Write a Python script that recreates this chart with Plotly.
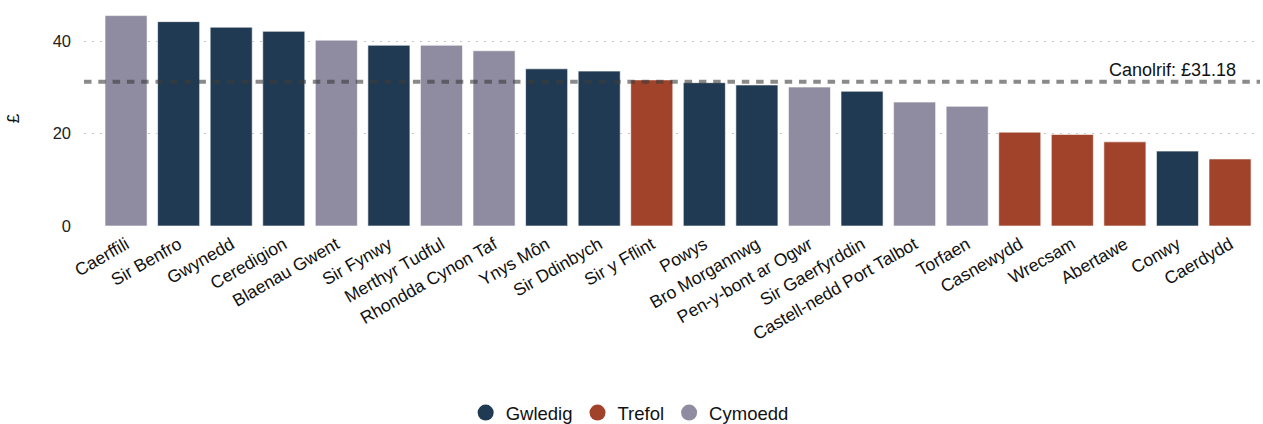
import plotly.graph_objects as go

categories = ["Caerffili", "Sir Benfro", "Gwynedd", "Ceredigion", "Blaenau Gwent", "Sir Fynwy",
              "Merthyr Tudful", "Rhondda Cynon Taf", "Ynys Môn", "Sir Ddinbych", "Sir y Fflint",
              "Powys", "Bro Morgannwg", "Pen-y-bont ar Ogwr", "Sir Gaerfyrddin",
              "Castell-nedd Port Talbot", "Torfaen", "Casnewydd", "Wrecsam", "Abertawe", "Conwy", "Caerdydd"]
values = [45.5, 44.2, 43.0, 42.1, 40.2, 39.1, 39.1, 37.9, 34.0, 33.5, 31.6, 31.0, 30.5, 30.05,
          29.15, 26.8, 25.9, 20.3, 19.8, 18.2, 16.2, 14.5]
groups = ["Cymoedd", "Gwledig", "Gwledig", "Gwledig", "Cymoedd", "Gwledig", "Cymoedd", "Cymoedd",
          "Gwledig", "Gwledig", "Trefol", "Gwledig", "Gwledig", "Cymoedd", "Gwledig", "Cymoedd",
          "Cymoedd", "Trefol", "Trefol", "Trefol", "Gwledig", "Trefol"]
median = 31.18
legend_order = ["Gwledig", "Trefol", "Cymoedd"]
colors = {"Gwledig": "#1f3a52", "Trefol": "#a0432a", "Cymoedd": "#8f8ba0"}

FONT = "Liberation Sans, Arial, sans-serif"

fig = go.Figure()
fig.add_trace(go.Bar(
    x=categories, y=values,
    marker=dict(color=[colors[g] for g in groups], line=dict(color="rgba(255,255,255,0.6)", width=1)),
    width=0.8, showlegend=False, hoverinfo="x+y",
))
for g in legend_order:
    fig.add_trace(go.Scatter(x=[None], y=[None], mode="markers", name=g,
                             marker=dict(color=colors[g], size=16, symbol="circle")))

fig.add_shape(type="line", xref="paper", yref="y", x0=0, x1=1, y0=median, y1=median,
              line=dict(color="rgba(60,60,60,0.6)", width=4, dash="7.5px,6.8px"), layer="above")
fig.add_annotation(xref="paper", yref="y", x=0.981, y=median, text=f"Canolrif: £{median:.2f}",
                   showarrow=False, xanchor="right", yanchor="bottom", yshift=0,
                   font=dict(family=FONT, size=18, color="#111"))

fig.update_layout(
    width=1263, height=424,
    margin=dict(l=84, r=3, t=11, b=198, autoexpand=False),
    paper_bgcolor="white", plot_bgcolor="white",
    font=dict(family=FONT, size=16, color="#111"),
    xaxis=dict(categoryorder="array", categoryarray=categories, tickangle=-30, automargin=False,
               range=[-0.8, 21.57], showgrid=False, showline=False, zeroline=False,
               ticklabelstandoff=4, tickfont=dict(size=17.5, color="#111")),
    yaxis=dict(range=[0, 46.5], tickvals=[0, 20, 40], showgrid=True, gridcolor="#c4c4c4",
               griddash="2px,6px", gridwidth=1, zeroline=False, ticklabelstandoff=12, automargin=False,
               title=dict(text="£", font=dict(size=17), standoff=28),
               tickfont=dict(size=16.5, color="#222")),
    legend=dict(orientation="h", x=0.464, xanchor="center",
                y=-0.87, yanchor="middle", font=dict(size=18.5, color="#111"),
                itemwidth=30, tracegroupgap=0),
)

fig.write_html("out.html", config={"displayModeBar": False},
               post_script="document.body.style.margin='0';document.body.style.overflow='hidden';")
